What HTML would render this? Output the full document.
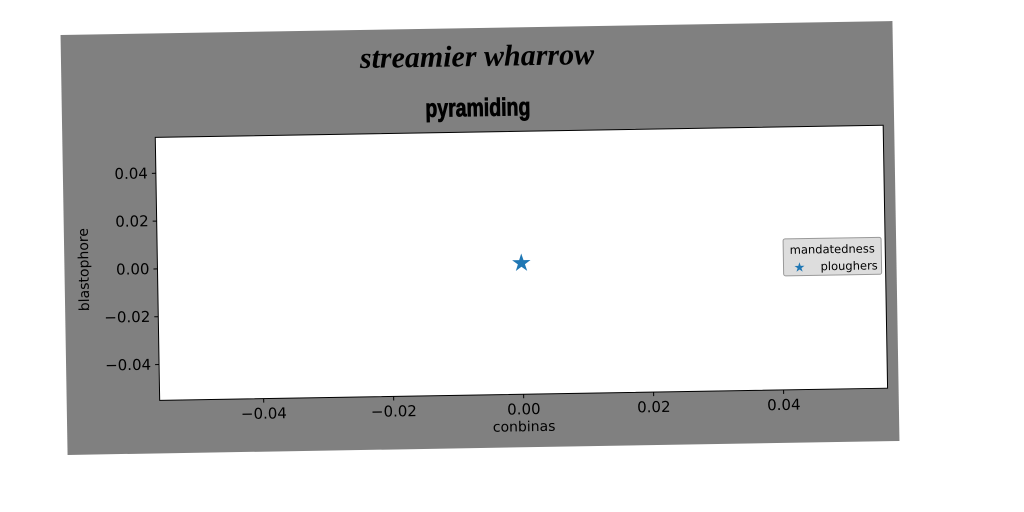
<!DOCTYPE html>
<html><head><meta charset="utf-8"><style>
html,body{margin:0;padding:0;width:1024px;height:512px;background:#fff;overflow:hidden}
#fig{position:absolute;left:64px;top:27.5px;width:832px;height:420px;transform:rotate(-0.96deg);transform-origin:416px 210px;background:#808080}
svg text{font-family:"DejaVu Sans","Liberation Sans",sans-serif}
</style></head><body>
<div id="fig">
<svg id="chart" width="832" height="420">
<text x="416" y="38" text-anchor="middle" font-style="italic" font-weight="bold" font-size="30" style="font-family:'Liberation Serif',serif">streamier wharrow</text>
<text x="0" y="0" text-anchor="middle" font-weight="bold" font-size="25" stroke="#000" stroke-width="0.8" transform="translate(416,88) scale(0.78,1)" style="font-family:'Liberation Sans',sans-serif">pyramiding</text>
<rect x="93" y="104" width="728" height="263" fill="#fff" stroke="#000" stroke-width="1"/>
<g id="xt"></g><g id="yt"></g><g id="marks"></g>
<text x="457" y="404" text-anchor="middle" font-size="14">conbinas</text>
<text x="0" y="0" text-anchor="middle" font-size="14" transform="translate(24,235) rotate(-90)">blastophore</text>
<g>
<rect x="719" y="216" width="98" height="37" fill="#ddd" stroke="#999" rx="2"/>
<text x="768" y="231" text-anchor="middle" font-size="11.5">mandatedness</text>
<text x="735" y="249" text-anchor="middle" font-size="13" fill="#1f77b4">★</text>
<text x="756" y="248" font-size="11.5">ploughers</text>
</g>
</svg></div>
<script>
const xTicks=[-0.04,-0.02,0.00,0.02,0.04];
const yTicks=[-0.04,-0.02,0.00,0.02,0.04];
const xs=[0.0];
const ys=[0.0];
const L=93,T=104,W=728,H=263,xmin=-0.056,xmax=0.056,ymin=-0.055,ymax=0.055;
const sx=v=>L+(v-xmin)/(xmax-xmin)*W;
const sy=v=>T+(ymax-v)/(ymax-ymin)*H;
const NS="http://www.w3.org/2000/svg";
const fmt=v=>(v<0?"\u2212":"")+Math.abs(v).toFixed(2);
const xt=document.getElementById('xt'),yt=document.getElementById('yt'),mk=document.getElementById('marks');
xTicks.forEach(v=>{
 const l=document.createElementNS(NS,'line');l.setAttribute('x1',sx(v));l.setAttribute('x2',sx(v));l.setAttribute('y1',T+H);l.setAttribute('y2',T+H+4);l.setAttribute('stroke','#000');
 
 
 xt.appendChild(l);
 const t=document.createElementNS(NS,'text');t.setAttribute('x',sx(v));t.setAttribute('y',T+H+20);t.setAttribute('text-anchor','middle');t.setAttribute('font-size','15');t.textContent=fmt(v);
 
 
 xt.appendChild(t);
});
yTicks.forEach(v=>{
 const l=document.createElementNS(NS,'line');l.setAttribute('x1',L-4);l.setAttribute('x2',L);l.setAttribute('y1',sy(v));l.setAttribute('y2',sy(v));l.setAttribute('stroke','#000');
 
 
 yt.appendChild(l);
 const t=document.createElementNS(NS,'text');t.setAttribute('x',L-8);t.setAttribute('y',sy(v)+5);t.setAttribute('text-anchor','end');t.setAttribute('font-size','15');t.textContent=fmt(v);
 
 
 yt.appendChild(t);
});
xs.forEach((v,i)=>{
 const t=document.createElementNS(NS,'text');t.setAttribute('x',sx(v));t.setAttribute('y',sy(ys[i])+8);t.setAttribute('text-anchor','middle');t.setAttribute('font-size','24');t.setAttribute('fill','#1f77b4');t.textContent='★';
 
 
 mk.appendChild(t);
});
</script>
</body></html>
